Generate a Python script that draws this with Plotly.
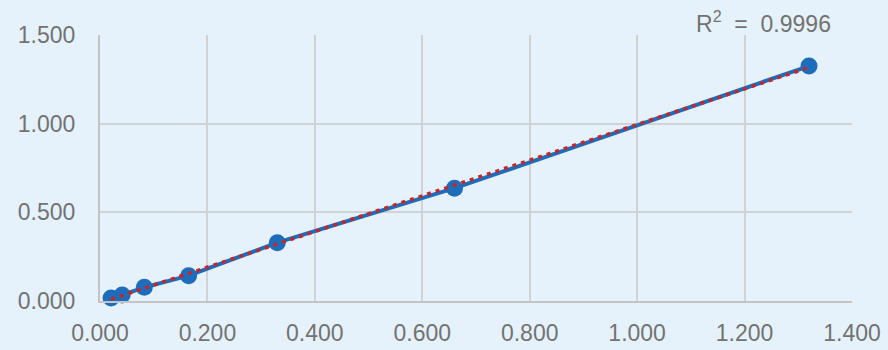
import numpy as np
import plotly.graph_objects as go

# Data
x_vals = [0.0206, 0.0413, 0.0825, 0.165, 0.330, 0.660, 1.320]
y_vals = [0.017, 0.034, 0.077, 0.143, 0.329, 0.636, 1.325]
r2_label = "R<sup>2</sup>&nbsp; =&nbsp; 0.9996"
x_ticks = [0.0, 0.2, 0.4, 0.6, 0.8, 1.0, 1.2, 1.4]
y_ticks = [0.0, 0.5, 1.0, 1.5]

# Linear trendline from the data
slope, intercept = np.polyfit(x_vals, y_vals, 1)
tx = [min(x_vals), max(x_vals)]
ty = [slope * v + intercept for v in tx]

BG = "#E6F2FB"
GRID = "#D2D2D2"
TXT = "#727272"
BLUE = "#1D6DBA"
RED = "#C0282E"
FONT = "Liberation Sans"

fig = go.Figure()
fig.add_trace(go.Scatter(
    x=x_vals, y=y_vals, mode="lines+markers",
    line=dict(color=BLUE, width=4),
    marker=dict(color=BLUE, size=17),
    showlegend=False, hoverinfo="skip", cliponaxis=False))
fig.add_trace(go.Scatter(
    x=tx, y=ty, mode="lines",
    line=dict(color=RED, width=3.5, dash="4px,5px"),
    showlegend=False, hoverinfo="skip", cliponaxis=False))

fig.update_layout(
    width=888, height=350,
    margin=dict(l=100, r=36, t=35, b=49, autoexpand=False),
    paper_bgcolor=BG, plot_bgcolor=BG,
    font=dict(family=FONT, size=23, color=TXT),
    xaxis=dict(range=[0, 1.4], tickvals=x_ticks,
               ticktext=[f"{v:.3f}" for v in x_ticks],
               showgrid=True, gridcolor=GRID, gridwidth=2,
               zeroline=False, showline=True, linecolor="#C4C4C4", linewidth=2,
               mirror=False, ticks="", ticklabelstandoff=10, automargin=False),
    yaxis=dict(range=[0, 1.5], tickvals=y_ticks,
               ticktext=[f"{v:.3f}" for v in y_ticks],
               showgrid=True, gridcolor=GRID, gridwidth=2,
               zeroline=False, showline=True, linecolor="#C4C4C4", linewidth=2,
               ticks="", ticklabelstandoff=18, automargin=False),
    annotations=[dict(
        text=r2_label, xref="paper", yref="paper",
        x=0.975, y=1.05, xanchor="right", yanchor="middle",
        showarrow=False, font=dict(family=FONT, size=23, color=TXT))],
)
fig.write_html("out.html", config={"displayModeBar": False},
               post_script="document.body.style.margin='0';document.body.style.background='" + BG + "';")
